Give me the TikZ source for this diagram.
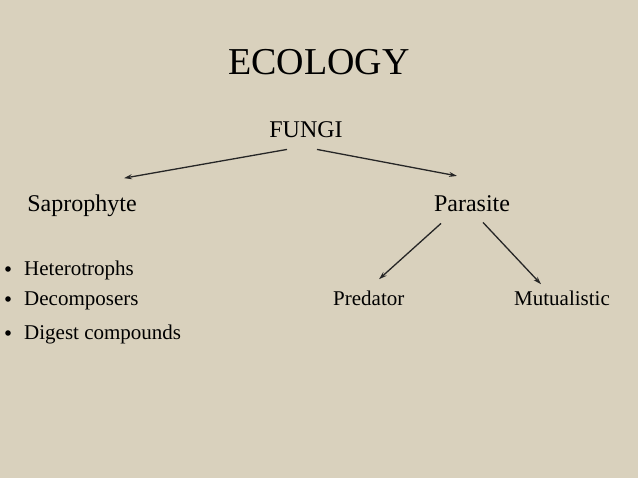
\documentclass[tikz,border=0pt]{standalone}
\usepackage{fontspec}
\setmainfont{Liberation Serif}
\definecolor{canvas}{RGB}{217,209,189}
\tikzset{
    arr/.style={-{Stealth[length=8pt,width=5pt]}, line width=1.3pt, black!85},
    lbl/.style={anchor=base, inner sep=0pt, font=\fontsize{24}{28}\selectfont},
    small/.style={anchor=base west, inner sep=0pt, font=\fontsize{21}{25}\selectfont},
}
\usetikzlibrary{arrows.meta}
\begin{document}
\begin{tikzpicture}[x=1pt, y=-1pt]

    % Background
    \fill[canvas] (0,0) rectangle (638,478);
    \useasboundingbox (0,0) rectangle (638,478);

    % Title
    \node[lbl, font=\fontsize{38}{44}\selectfont] (title) at (319,75) {ECOLOGY};

    %% Tree
    \node[lbl] (fungi) at (306,138) {FUNGI};
    \node[lbl] (sapro) at (82,212) {Saprophyte};
    \node[lbl] (para) at (472,212) {Parasite};
    \node[small] (pred) at (333,306) {Predator};
    \node[small] (mutu) at (514,306) {Mutualistic};

    % Arrows from fungi
    \draw[arr] ([xshift=-19pt,yshift=-11pt]fungi.south) -- ([xshift=42pt,yshift=17pt]sapro.north);
    \draw[arr] ([xshift=11pt,yshift=-11pt]fungi.south) -- ([xshift=-15pt,yshift=20pt]para.north);

    % Arrows from parasite
    \draw[arr] ([xshift=-31pt,yshift=-11pt]para.south) -- ([xshift=46pt,yshift=12pt]pred.north west);
    \draw[arr] ([xshift=11pt,yshift=-10pt]para.south) -- ([xshift=27pt,yshift=7pt]mutu.north west);

    %% Bullet list
    \node[small] (hetero) at (24,276) {Heterotrophs};
    \node[small] (decomp) at (24,306) {Decomposers};
    \node[small] (digest) at (24,340) {Digest compounds};
    \foreach \b in {hetero,decomp,digest}
        \fill ([xshift=-16pt,yshift=7pt]\b.base west) circle(2.8);

\end{tikzpicture}
\end{document}
